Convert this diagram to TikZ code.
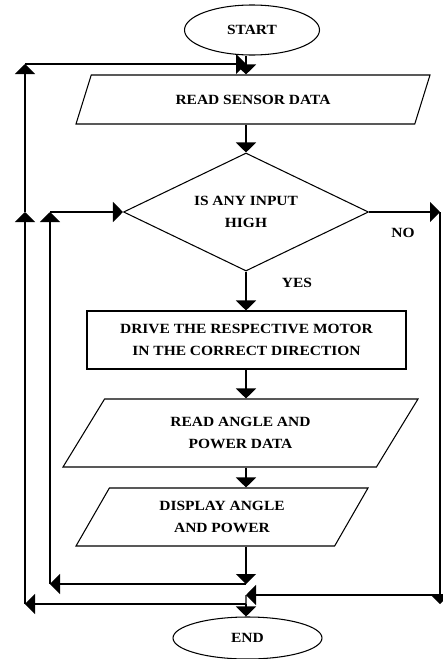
\documentclass[tikz,border=0pt]{standalone}
\usepackage{fontspec}
\setmainfont{Liberation Serif}[FakeStretch=1.1]
\usetikzlibrary{shapes.geometric,arrows.meta,positioning}

\begin{document}
\begin{tikzpicture}[
  term/.style={ellipse, draw, minimum width=4.05cm, minimum height=1.5cm, inner sep=0pt},
  io/.style={trapezium, draw, trapezium stretches body, align=center, inner sep=0pt},
  decision/.style={diamond, draw, aspect=2.08, minimum width=7.35cm, minimum height=3.54cm, inner sep=0pt, align=center},
  process/.style={rectangle, draw, minimum width=9.57cm, minimum height=1.74cm, align=center},
  flow/.style={-{Triangle[width=0.6cm,length=0.3cm]}, line width=1.1pt},
  lbl/.style={inner sep=1pt},
  node distance=2cm,
  line width=0.9pt,
  font=\bfseries\fontsize{12}{19}\selectfont
]
\useasboundingbox (0,0) rectangle (13.29,-19.77);

\node[term] (start) at (7.56,-0.90) {START};
\node[io, below of=start, node distance=2.085cm, xshift=0.03cm, trapezium left angle=31.8, trapezium right angle=148.2, minimum width=10.62cm, minimum height=1.47cm] (sensor) {READ SENSOR DATA};
\node[decision, below of=sensor, node distance=3.375cm, xshift=-0.21cm] (check) {IS ANY INPUT\\HIGH};
\node[process, below of=check, node distance=3.84cm, xshift=0.015cm] (drive) {DRIVE THE RESPECTIVE MOTOR\\IN THE CORRECT DIRECTION};
\node[io, below of=drive, node distance=2.79cm, xshift=-0.18cm, trapezium left angle=37.4, trapezium right angle=142.6, minimum width=10.65cm, minimum height=2.04cm] (angle) {READ ANGLE AND\\POWER DATA};
\node[io, below of=angle, node distance=2.52cm, xshift=-0.555cm, trapezium left angle=43.6, trapezium right angle=136.4, minimum width=8.76cm, minimum height=1.74cm] (display) {DISPLAY ANGLE\\AND POWER};
\node[term, below of=display, node distance=3.63cm, xshift=0.765cm, minimum width=4.47cm, minimum height=1.26cm] (end) {END};

\node[lbl] (no) at ([xshift=1.02cm,yshift=-0.63cm]check.east) {NO};
\node[lbl] (yes) at ([xshift=1.53cm,yshift=-0.33cm]check.south) {YES};

% loop corners
\coordinate (otop) at (0.75,-1.92);
\coordinate (omid) at (otop |- check.west);
\coordinate (obot) at (0.75,-18.12);
\coordinate (itop) at (1.50,0 |- check.west);
\coordinate (ibot) at (1.50,-17.52);
\coordinate (nright) at (13.2,0 |- check.east);
\coordinate (nbot) at (13.2,-18.12);
\coordinate (nret) at (7.38,-17.85);
\coordinate (ijoin) at (ibot -| check.south);
\coordinate (ojoin) at (obot -| check.south);

\draw[flow] (check.north |- start.south) -- (check.north |- sensor.north);
\draw[flow] (obot) -- (omid);
\draw[flow] (omid) -- (otop);
\draw[flow] (otop) -- (otop -| check.north);
\draw[flow] (check.north |- sensor.south) -- (check.north);
\draw[flow] (ibot) -- (itop);
\draw[flow] (itop) -- (check.west);
\draw[flow] (check.east) -- (nright);
\draw[flow] (nright) -- (nbot);
\draw[flow] (nret -| nbot) -- (nret);
\draw[flow] (check.south) -- (drive.north -| check.south);
\draw[flow] (check.south |- drive.south) -- (check.south |- angle.north);
\draw[flow] (check.south |- angle.south) -- (check.south |- display.north);
\draw[flow] (check.south |- display.south) -- (ijoin);
\draw[flow] (ijoin) -- (ibot);
\draw[line width=1.1pt] (nret) -- (ojoin);
\draw[flow] (ojoin) -- (obot);
\draw[flow] (ojoin) -- (end.north -| ojoin);
\end{tikzpicture}
\end{document}
